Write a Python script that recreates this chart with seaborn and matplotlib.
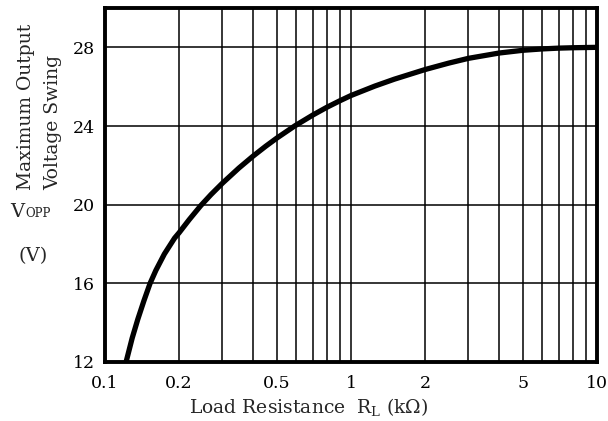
import matplotlib
matplotlib.use("Agg")
import matplotlib.pyplot as plt
import matplotlib.ticker as mticker
import seaborn as sns
import pandas as pd

# Data
load_kohm = [0.1218, 0.129, 0.136, 0.144, 0.1525, 0.161, 0.1743, 0.1918, 0.2, 0.22, 0.245, 0.27,
             0.3, 0.35, 0.4, 0.45, 0.5, 0.59, 0.7, 0.8, 0.9,
             1.0, 1.25, 1.5, 2.0, 2.5, 3.0, 4.0, 5.0, 6.0, 7.0, 8.0, 10.0]
vopp = [12.0, 13.22, 14.18, 15.12, 16.0, 16.66, 17.49, 18.30, 18.57, 19.24, 19.95, 20.52,
        21.09, 21.86, 22.47, 22.97, 23.39, 24.0, 24.56, 24.96, 25.28,
        25.55, 26.03, 26.38, 26.87, 27.20, 27.44, 27.71, 27.85, 27.92, 27.96, 27.98, 28.0]
x_ticks = [0.1, 0.2, 0.5, 1, 2, 5, 10]
x_tick_labels = ["0.1", "0.2", "0.5", "1", "2", "5", "10"]
y_ticks = [12, 16, 20, 24, 28]

df = pd.DataFrame({"R": load_kohm, "V": vopp})

sns.set_style("white")
plt.rcParams["font.family"] = ["DejaVu Serif", "Liberation Serif"]
plt.rcParams["mathtext.fontset"] = "dejavuserif"

W, H = 608, 421
fig = plt.figure(figsize=(W / 100, H / 100), dpi=100)
ax = fig.add_axes([105 / W, 1 - 362 / H, (597 - 105) / W, (362 - 8) / H])

ax.set_xscale("log")
ax.set_xlim(0.1, 10)
ax.set_ylim(12, 30)

ax.xaxis.set_major_locator(mticker.FixedLocator(x_ticks))
ax.xaxis.set_major_formatter(mticker.FixedFormatter(x_tick_labels))
ax.xaxis.set_minor_locator(mticker.LogLocator(base=10, subs=range(1, 10), numticks=20))
ax.xaxis.set_minor_formatter(mticker.NullFormatter())
ax.set_yticks(y_ticks)
ax.grid(True, which="both", axis="x", color="black", lw=1.1)
ax.grid(True, which="major", axis="y", color="black", lw=1.1)
ax.set_axisbelow(True)

sns.lineplot(data=df, x="R", y="V", ax=ax, color="black", lw=3.8, zorder=5)

ax.tick_params(which="both", length=0, labelsize=12.5, colors="black")
ax.tick_params(axis="x", pad=9)
ax.tick_params(axis="y", pad=7)
for s in ax.spines.values():
    s.set_visible(True)
    s.set_color("black")
    s.set_linewidth(2.8)

ax.set_xlabel("Load Resistance  R$_\\mathregular{L}$ (kΩ)", fontsize=13.5)
ax.xaxis.set_label_coords((309 - 105) / 492, -(407 - 362) / 354)
ax.xaxis.label.set_va("center")
ax.set_ylabel("")

def fx(px):
    return px / W

def fy(py):
    return 1 - py / H

fig.text(fx(26), fy(190), "Maximum Output", rotation=90, ha="center", va="bottom", fontsize=13.5)
fig.text(fx(53), fy(190), "Voltage Swing", rotation=90, ha="center", va="bottom", fontsize=13.5)
fig.text(fx(10), fy(217), "V", ha="left", va="baseline", fontsize=14)
fig.text(fx(25), fy(217), "OPP", ha="left", va="baseline", fontsize=8.5)
fig.text(fx(33), fy(256), "(V)", ha="center", va="center", fontsize=14)

fig.savefig("out.png", dpi=100)
